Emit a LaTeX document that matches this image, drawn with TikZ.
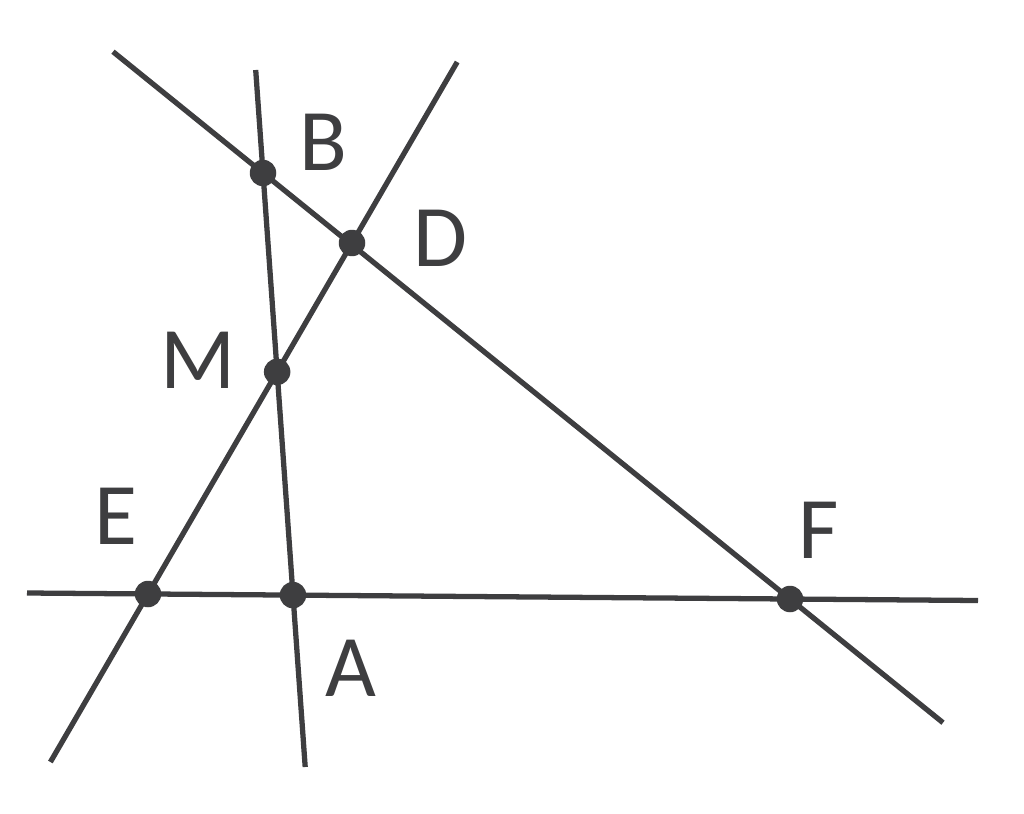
\documentclass[tikz,border=0pt]{standalone}
\usepackage{fontspec}
\setmainfont{Carlito}
\definecolor{pencil}{HTML}{3E3E40}
\begin{document}
\begin{tikzpicture}[x=0.02cm,y=-0.02cm]

\useasboundingbox (0,0) rectangle (1024,814);

% main points
\coordinate (B) at (263,173);
\coordinate (D) at (352,243);
\coordinate (E) at (148,594);
\coordinate (F) at (790,599);
\coordinate (A) at (intersection of B--{(305.2,767)} and E--F);
\coordinate (M) at (intersection of B--A and E--D);

% free ends of the lines
\coordinate (bf1) at (113,51.7);
\coordinate (bf2) at (943,722.7);
\coordinate (ba1) at (255.7,70);
\coordinate (ba2) at (305.2,767);
\coordinate (ed1) at (457.2,62);
\coordinate (ed2) at (50.4,762);
\coordinate (ef1) at (27,593);
\coordinate (ef2) at (978,600.5);

\begin{scope}[pencil,line width=3pt] % the four lines
  \draw (bf1) -- (bf2);
  \draw (ba1) -- (ba2);
  \draw (ed1) -- (ed2);
  \draw (ef1) -- (ef2);
\end{scope}

\begin{scope} % dots and labels
  [dot/.style={circle,fill=pencil,inner sep=0pt,minimum size=0.53cm},
   lbl/.style={text=pencil,font=\fontsize{50}{60}\selectfont,inner sep=0pt}]
  \foreach \p in {B,D,M,E,A,F}
    \node[dot] (dot\p) at (\p) {};
  \node[lbl] (labB) at (323,142) {B};
  \node[lbl] (labD) at (441,238) {D};
  \node[lbl] (labM) at (198,360) {M};
  \node[lbl] (labE) at (116,516) {E};
  \node[lbl] (labF) at (819,530) {F};
  \node[lbl] (labA) at (351,668) {A};
\end{scope}

\end{tikzpicture}
\end{document}
